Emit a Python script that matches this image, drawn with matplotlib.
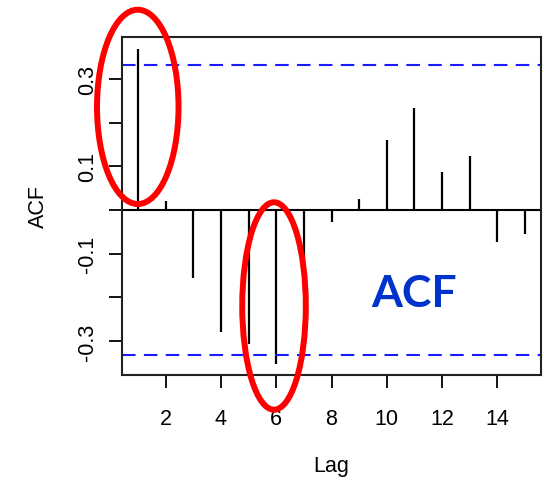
import matplotlib.pyplot as plt
from matplotlib.patches import Ellipse

lags = list(range(1, 16))
acf_vals = [0.369, 0.021, -0.155, -0.279, -0.307, -0.353, -0.19,
            -0.027, 0.025, 0.159, 0.234, 0.087, 0.124, -0.073, -0.055]
ci = 0.333
xticks = [2, 4, 6, 8, 10, 12, 14]
yticks = [-0.3, -0.2, -0.1, 0.0, 0.1, 0.2, 0.3]
ytick_labels = ['-0.3', '', '-0.1', '', '0.1', '', '0.3']

plt.rcParams['font.family'] = ['Liberation Sans', 'DejaVu Sans']

fig = plt.figure(figsize=(5.44, 4.81), dpi=100)
ax = fig.add_axes([0.2243, 0.2183, 0.7702, 0.7027])

ax.vlines(lags, 0, acf_vals, color='black', linewidth=1.6)
ax.axhline(0, color='black', linewidth=1.5)
ax.axhline(ci, color='#1a1aff', linewidth=1.5, linestyle=(0, (6.5, 4)))
ax.axhline(-ci, color='#1a1aff', linewidth=1.5, linestyle=(0, (6.5, 4)))

ax.set_xlim(0.42, 15.58)
ax.set_ylim(-0.378, 0.396)
ax.set_xticks(xticks)
ax.set_yticks(yticks)
ax.set_yticklabels(ytick_labels, rotation=90, va='center')
ax.tick_params(axis='both', length=9.5, width=1.3, labelsize=15.5, color='black')
ax.tick_params(axis='x', pad=14)
ax.tick_params(axis='y', pad=8)
for s in ax.spines.values():
    s.set_linewidth(1.5)
    s.set_color('#222222')

ax.set_xlabel('Lag', fontsize=15.5, labelpad=19)
ax.set_ylabel('ACF', fontsize=15.5, labelpad=20)

ax.text(11.0, -0.19, 'ACF', color='#0033cc', fontsize=32, fontweight='bold',
        family=['Lato', 'DejaVu Sans'], ha='center', va='center')

# red highlight rings
ax.add_patch(Ellipse((0.99, 0.236), 2.95, 0.445, fill=False, edgecolor='red',
                     linewidth=4.3, clip_on=False, zorder=5))
ax.add_patch(Ellipse((5.92, -0.220), 2.3, 0.475, fill=False, edgecolor='red',
                     linewidth=4.3, clip_on=False, zorder=5))

fig.savefig('out.png', dpi=100)
